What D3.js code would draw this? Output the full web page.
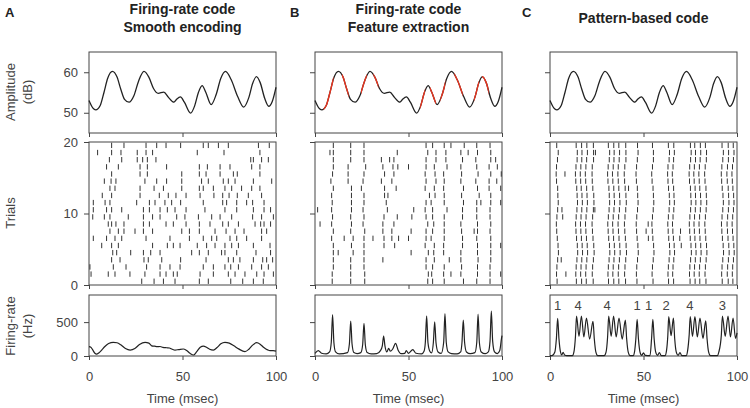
<!DOCTYPE html>
<html lang="en">
<head>
<meta charset="UTF-8">
<title>Firing-rate vs pattern-based code</title>
<script src="https://d3js.org/d3.v7.min.js"></script>
<style>
  body { margin: 0; background: #fff; font-family: "Liberation Sans", Arial, sans-serif; }
  .axis text { font-size: 13px; fill: #444; font-family: "Liberation Sans", Arial, sans-serif; }
  .axis line { stroke: #444; }
  .axis path { display: none; }
  .lbl { font-size: 13px; fill: #444; }
  .ttl { font-size: 14px; font-weight: bold; fill: #222; }
</style>
</head>
<body>
<svg width="750" height="408"></svg>
<script>
// ---- data ----
const panelLetters = ["A", "B", "C"];
const panelTitles = [["Firing-rate code", "Smooth encoding"], ["Firing-rate code", "Feature extraction"], ["Pattern-based code"]];
const timeTicks = [0, 50, 100];
const ampTicks = [50, 60];
const trialTicks = [0, 10, 20];
const rateTicks = [0, 500];

// sound amplitude (dB), same stimulus in all three panels
const ampTime = [0, 2, 3.6, 6, 8, 10, 12.5, 15, 17, 19, 21.4, 24, 26.5, 29.4, 32, 34.5, 37, 40, 42.5, 45.4, 47, 48.9, 51, 54.3, 56.5, 58.5, 60.5, 62.5, 65.3, 68, 70.5, 73, 76, 79.5, 82.7, 85.5, 87.5, 89.5, 91.5, 94, 96.1, 98, 100];
const ampDb = [53.0, 51.2, 50.7, 51.8, 55.0, 58.5, 60.2, 58.8, 55.8, 53.3, 52.6, 54.2, 57.8, 60.2, 58.8, 56.0, 54.8, 55.1, 53.8, 52.6, 53.4, 53.9, 52.6, 49.9, 51.7, 55.0, 56.7, 55.0, 52.0, 54.5, 58.5, 60.2, 58.2, 54.0, 51.4, 53.8, 57.2, 58.9, 57.5, 53.5, 51.6, 52.8, 56.3];
// stretches of the stimulus drawn in red in panel B (msec)
const redSpans = [[4.6, 9.9], [14.4, 18], [24.6, 27.7], [31.2, 33.9], [56.2, 58.9], [61.5, 64.7], [67, 69.7], [74.5, 79], [85, 87.8], [89.3, 92.9]];

// spike times (msec), trial 1 first
const rasterA = [
  [28.2, 34.8, 39.8, 46.0, 59.0, 63.8, 75.8, 82.2, 87.9, 93.2],
  [1.1, 10.3, 13.9, 21.9, 29.9, 38.0, 41.2, 45.1, 47.2, 59.4, 66.5, 74.5, 78.1, 83.4, 89.7, 93.6, 98.6],
  [0.5, 13.0, 19.8, 30.8, 38.0, 43.3, 48.7, 61.1, 66.5, 72.7, 75.8, 79.9, 87.0, 92.3, 95.9],
  [12.1, 16.6, 29.4, 31.7, 38.9, 49.0, 62.6, 74.5, 77.2, 80.7, 87.9, 92.9, 95.0, 98.2],
  [12.7, 14.8, 22.3, 29.1, 33.0, 38.0, 54.9, 59.0, 63.8, 70.9, 72.7, 79.0, 89.3, 97.1],
  [6.8, 12.1, 15.7, 34.0, 41.9, 45.1, 48.7, 57.9, 62.9, 67.4, 72.7, 76.3, 79.9, 87.9, 96.8],
  [2.3, 9.4, 13.9, 17.5, 30.5, 43.3, 53.7, 61.1, 65.6, 68.3, 75.4, 79.0, 84.3, 92.3],
  [11.2, 15.7, 18.7, 24.6, 29.1, 34.0, 49.6, 53.7, 59.0, 67.4, 73.3, 78.1, 82.9, 92.3, 95.0],
  [10.3, 12.1, 14.4, 18.7, 29.1, 32.3, 41.2, 45.1, 51.9, 59.0, 64.7, 71.5, 74.5, 79.9, 88.8, 91.8, 93.6, 97.1],
  [2.0, 8.2, 11.2, 21.0, 29.1, 34.0, 38.0, 46.9, 51.3, 58.5, 65.6, 70.1, 76.3, 87.5, 92.3, 98.6],
  [2.3, 9.4, 12.1, 17.5, 29.1, 32.3, 38.0, 41.9, 46.0, 51.9, 62.0, 72.7, 79.0, 87.9, 93.6, 97.1],
  [2.3, 8.6, 11.2, 25.5, 32.3, 35.3, 40.6, 44.2, 49.0, 61.1, 71.5, 73.6, 79.0, 84.3, 87.5, 93.6],
  [7.1, 12.1, 27.3, 37.6, 42.4, 46.5, 51.9, 59.4, 66.8, 71.5, 74.9, 79.3, 85.2, 92.3],
  [11.2, 13.9, 27.3, 34.8, 39.8, 49.6, 59.0, 61.1, 66.5, 72.7, 76.3, 81.6, 87.0, 91.4],
  [8.2, 11.8, 14.4, 29.9, 36.2, 41.5, 49.6, 60.2, 63.8, 71.8, 74.5, 78.1, 87.9, 97.7],
  [12.1, 27.3, 31.2, 49.6, 59.0, 62.6, 70.1, 77.2, 79.3, 91.4],
  [9.4, 15.7, 27.3, 31.2, 41.5, 59.0, 63.3, 70.1, 75.4, 87.0, 91.4],
  [10.9, 17.5, 25.8, 28.7, 31.2, 35.8, 86.5, 87.9, 92.3, 95.9],
  [4.6, 12.1, 17.1, 25.8, 30.5, 34.0, 57.9, 72.2, 91.4],
  [12.1, 18.7, 30.5, 36.2, 41.2, 49.0, 61.1, 63.8, 69.2, 74.5, 90.6, 96.4]
];
const rasterB = [
  [9.2, 19.1, 26.6, 60.3, 62.9, 69.1, 79.4, 86.5, 93.6],
  [9.2, 19.1, 26.6, 60.6, 62.4, 68.8, 72.7, 78.0, 86.9, 93.6, 99.3],
  [9.8, 19.1, 26.2, 59.4, 62.9, 69.1, 78.4, 86.9, 93.6],
  [9.8, 19.1, 26.2, 36.3, 59.4, 63.8, 71.8, 78.0, 87.2, 94.0],
  [9.8, 12.4, 20.4, 26.2, 51.4, 60.6, 63.5, 68.8, 78.0, 86.9, 94.0],
  [9.8, 19.5, 26.2, 36.9, 42.6, 58.9, 63.8, 68.8, 78.9, 86.9, 94.0, 99.3],
  [8.9, 15.6, 20.4, 26.2, 31.0, 36.9, 41.1, 44.7, 50.0, 59.4, 62.1, 69.1, 78.9, 86.5, 94.0],
  [9.8, 19.1, 26.6, 36.3, 41.1, 51.4, 59.4, 62.9, 69.1, 78.4, 85.1, 86.9, 93.6],
  [2.7, 8.9, 19.5, 25.7, 36.3, 42.2, 60.3, 63.5, 69.1, 78.0, 86.9, 94.0],
  [9.4, 19.1, 26.2, 36.9, 44.0, 51.8, 59.4, 62.9, 69.1, 78.9, 86.5, 93.6],
  [1.4, 8.9, 19.5, 25.7, 38.7, 52.8, 58.9, 62.9, 70.6, 78.9, 86.5, 93.6],
  [9.2, 19.5, 26.2, 38.1, 59.4, 62.1, 69.1, 79.4, 86.5, 88.7, 94.0, 99.3],
  [8.9, 19.5, 26.2, 37.2, 39.0, 61.2, 64.2, 69.1, 78.4, 87.8, 94.0],
  [9.8, 19.5, 24.8, 37.2, 43.4, 58.9, 63.8, 68.8, 79.4, 86.9, 93.1, 99.3],
  [8.5, 17.7, 25.7, 35.5, 41.1, 59.4, 64.7, 69.1, 78.0, 86.0, 93.1, 97.2],
  [9.4, 17.7, 26.2, 37.2, 42.2, 58.9, 64.2, 68.8, 78.4, 87.2, 94.0, 99.6],
  [9.8, 17.7, 27.1, 36.3, 41.7, 44.3, 50.0, 59.4, 63.8, 70.6, 78.0, 86.5, 93.1, 97.5],
  [9.8, 19.1, 26.2, 35.5, 39.9, 42.2, 59.4, 64.7, 70.0, 78.9, 86.0, 94.0, 96.6],
  [8.0, 9.8, 19.1, 26.2, 44.0, 60.3, 64.7, 70.0, 78.0, 81.9, 86.9, 94.0],
  [9.8, 19.1, 26.2, 59.4, 62.9, 69.1, 72.7, 79.8, 86.5, 93.6]
];
const rasterC = [
  [3.8, 14.1, 16.9, 19.4, 23.1, 31.3, 34.1, 36.8, 40.4, 46.5, 55.1, 63.4, 66.1, 74.9, 77.6, 80.1, 83.4, 92.1, 95.3, 97.8],
  [3.5, 8.5, 13.8, 16.4, 19.1, 22.6, 31.0, 33.6, 36.5, 39.9, 46.2, 54.6, 63.1, 65.6, 74.6, 77.1, 79.8, 82.9, 91.8, 94.8, 97.5],
  [3.7, 14.0, 16.6, 19.3, 22.8, 31.2, 33.8, 36.7, 40.1, 46.4, 54.8, 63.3, 65.8, 74.8, 77.3, 80.0, 83.1, 92.0, 95.0, 97.7],
  [4.1, 6.0, 14.4, 17.0, 19.7, 23.2, 31.6, 34.2, 37.1, 40.5, 46.8, 55.2, 63.7, 66.2, 75.2, 77.7, 80.4, 83.5, 92.4, 95.4, 98.1],
  [4.5, 14.8, 17.4, 20.1, 23.6, 32.0, 34.6, 37.5, 40.9, 47.2, 55.6, 64.1, 66.6, 75.6, 78.1, 80.8, 83.9, 92.8, 95.8, 98.5],
  [4.3, 14.6, 17.2, 19.9, 23.4, 31.8, 34.4, 37.3, 40.7, 47.0, 55.4, 63.9, 66.4, 70.2, 75.4, 77.9, 80.6, 83.7, 92.6, 95.6, 98.3],
  [3.9, 14.2, 16.8, 19.5, 23.0, 31.4, 34.0, 36.9, 40.3, 46.6, 52.6, 55.0, 63.5, 66.0, 69.4, 75.0, 77.5, 80.2, 83.3, 92.2, 95.2, 97.9],
  [3.6, 13.9, 16.5, 19.2, 22.7, 31.1, 33.7, 36.6, 40.0, 46.3, 51.4, 54.7, 63.2, 65.7, 69.8, 74.7, 77.2, 79.9, 83.0, 91.9, 94.9, 97.6],
  [3.4, 13.7, 16.3, 19.0, 22.5, 30.9, 33.5, 36.4, 39.8, 46.1, 52.5, 54.5, 63.0, 65.5, 74.5, 77.0, 79.7, 82.8, 91.7, 94.7, 97.4],
  [3.7, 6.8, 14.0, 16.6, 19.3, 22.8, 31.2, 33.8, 36.7, 40.1, 46.4, 54.8, 63.3, 65.8, 74.8, 77.3, 80.0, 83.1, 92.0, 95.0, 97.7],
  [4.1, 6.4, 14.4, 17.0, 19.7, 23.2, 24.0, 31.6, 34.2, 37.1, 40.5, 46.8, 55.2, 63.7, 66.2, 75.2, 77.7, 80.4, 83.5, 92.4, 95.4, 98.1],
  [4.4, 14.7, 17.3, 20.0, 23.5, 31.9, 34.5, 37.4, 40.8, 47.1, 55.5, 64.0, 66.5, 75.5, 78.0, 80.7, 83.8, 92.7, 95.7, 98.4],
  [4.2, 14.5, 17.1, 19.8, 23.4, 31.7, 34.3, 37.2, 40.6, 46.9, 55.3, 63.8, 66.3, 75.3, 77.8, 80.5, 83.6, 92.5, 95.5, 98.2],
  [4.1, 14.3, 16.7, 19.6, 22.9, 31.5, 34.1, 36.8, 40.2, 42.0, 46.7, 55.1, 63.4, 66.1, 75.1, 77.6, 80.1, 83.4, 92.1, 95.3, 97.8],
  [3.5, 13.8, 16.4, 19.1, 22.6, 31.0, 33.6, 36.5, 39.9, 46.2, 54.6, 63.1, 65.6, 74.6, 77.1, 79.8, 82.9, 91.8, 94.8, 97.5],
  [3.3, 8.0, 13.6, 16.2, 18.9, 22.5, 30.8, 33.4, 36.3, 39.7, 46.0, 54.4, 62.9, 65.4, 74.4, 76.9, 79.6, 82.7, 91.6, 94.6, 97.3],
  [3.5, 13.9, 16.5, 19.2, 22.6, 31.1, 33.8, 36.5, 40.0, 46.3, 54.8, 63.1, 65.8, 74.7, 77.2, 79.9, 83.0, 91.9, 94.9, 97.6],
  [4.0, 14.5, 17.0, 19.6, 23.3, 31.7, 34.2, 37.0, 40.6, 46.7, 55.3, 63.7, 66.1, 75.2, 77.8, 80.3, 83.6, 92.4, 95.4, 98.1],
  [4.4, 14.6, 17.1, 20.0, 23.3, 24.3, 31.9, 34.3, 37.2, 40.6, 47.1, 55.3, 63.9, 66.5, 75.5, 77.8, 80.6, 83.7, 92.7, 95.5, 98.4],
  [3.6, 14.0, 16.9, 19.7, 23.2, 31.2, 34.1, 36.8, 40.5, 46.8, 54.8, 63.3, 66.2, 75.1, 77.4, 80.4, 83.1, 92.0, 95.3, 98.0]
];

// firing rate, [msec, Hz]
const rateA = [[0, 137], [1, 130], [2, 90], [3, 45], [4.2, 29], [5.5, 50], [6.8, 88], [8.5, 140], [10.5, 185], [13, 201], [15, 195], [17, 165], [19.5, 110], [22, 88], [24.5, 110], [27, 170], [30, 201], [32, 190], [33.5, 150], [35, 145], [36.5, 137], [38, 140], [39.5, 128], [41.6, 122], [43, 118], [44.5, 100], [46, 88], [48, 95], [50.5, 103], [52, 85], [54, 40], [55.9, 15], [57.5, 60], [59.5, 130], [61.2, 147], [63, 125], [64.5, 100], [66.5, 88], [68.5, 125], [70.5, 180], [72.7, 201], [75, 190], [77.5, 150], [80, 105], [83.4, 64], [85.5, 100], [87.5, 160], [89.7, 196], [91.5, 175], [93.5, 125], [95.5, 90], [96.8, 78], [98.5, 80], [100, 73]];
const rateB = [[0, 40], [1.8, 80], [3.5, 40], [6, 30], [7.8, 60], [8.7, 200], [9.4, 612], [10.1, 200], [11, 60], [13, 30], [17.4, 50], [18.4, 180], [19.1, 515], [19.8, 180], [20.8, 50], [22.5, 35], [24.5, 50], [25.5, 170], [26.2, 480], [26.9, 170], [27.9, 50], [30, 30], [33, 35], [35, 80], [36, 150], [36.7, 294], [37.4, 150], [38.4, 60], [39.4, 113], [40.3, 70], [41.5, 100], [43.1, 186], [44.4, 90], [46, 35], [48, 40], [48.8, 80], [50, 40], [52.3, 95], [54, 40], [57, 30], [58.3, 70], [59, 200], [59.7, 593], [60.4, 200], [61.4, 70], [62.3, 45], [63.3, 200], [64, 505], [64.7, 200], [65.8, 60], [67.5, 40], [68.8, 200], [69.5, 627], [70.2, 200], [71.2, 60], [73, 35], [76, 30], [77.9, 60], [78.6, 200], [79.3, 529], [80, 200], [81, 60], [83, 35], [85.5, 50], [86.5, 200], [87.2, 617], [87.9, 200], [88.9, 60], [91, 35], [92.7, 60], [93.6, 220], [94.3, 661], [95, 220], [96, 60], [97.5, 35], [98.8, 80], [99.8, 270], [100, 300]];
const rateC = [[0, 5], [1, 5], [2.6, 60], [3.4, 250], [4.1, 554], [4.8, 250], [5.6, 60], [6.3, 15], [7, 55], [7.8, 15], [9, 5], [12, 5], [12.8, 60], [13.6, 280], [14.2, 590], [15.5, 290], [16.8, 590], [18.1, 280], [19.5, 560], [21.2, 250], [23, 510], [23.7, 250], [24.5, 60], [25.5, 5], [29, 5], [30, 60], [30.8, 280], [31.4, 590], [32.7, 290], [34, 590], [35.4, 280], [36.9, 560], [38.6, 250], [40.3, 530], [41, 250], [41.8, 60], [42.8, 5], [44.5, 5], [45.2, 60], [45.9, 250], [46.6, 540], [47.3, 250], [48.1, 60], [49, 10], [50, 45], [51, 8], [53.5, 5], [54.3, 250], [55, 540], [55.7, 250], [56.5, 60], [57.5, 10], [58.5, 50], [59.5, 5], [61.5, 5], [62.3, 80], [63, 300], [63.5, 580], [64.75, 300], [66, 560], [66.7, 250], [67.5, 60], [68.5, 10], [69.5, 50], [70.5, 5], [72.8, 5], [73.6, 80], [74.4, 300], [75, 580], [76.2, 290], [77.5, 580], [78.8, 280], [80.2, 560], [81.8, 260], [83.3, 520], [84, 250], [84.8, 60], [85.8, 5], [89.5, 5], [90.3, 60], [91.6, 300], [92.2, 590], [93.7, 290], [95.2, 590], [96.5, 280], [97.9, 560], [99.2, 260], [100, 340]];

// number of spikes per pattern, placed above panel C rate trace
const patternLabels = ["1", "4", "4", "1", "1", "2", "4", "3"];
const patternLabelTime = [4.1, 15.1, 30.6, 46.6, 52.8, 62.1, 74.8, 92.2];

// ---- drawing ----
const svg = d3.select("svg");
const panelX = [89, 315, 550], panelW = 187;
const rows = { amp: [52, 133], trial: [142, 285], rate: [295, 356] };

const rasters = [rasterA, rasterB, rasterC];
const rates = [rateA, rateB, rateC];

const yAmp = d3.scaleLinear().domain([45, 65]).range([rows.amp[1], rows.amp[0]]);
const yTrial = d3.scaleLinear().domain([0, 20]).range([rows.trial[1], rows.trial[0]]);
const yRate = d3.scaleLinear().domain([0, 900]).range([rows.rate[1], rows.rate[0]]);

const ampData = ampTime.map((t, i) => [t, ampDb[i]]);

panelX.forEach((x0, p) => {
  const x = d3.scaleLinear().domain([0, 100]).range([x0, x0 + panelW]);
  const g = svg.append("g");

  // boxes
  Object.values(rows).forEach(r => {
    g.append("rect").attr("x", x0).attr("y", r[0]).attr("width", panelW).attr("height", r[1] - r[0])
      .attr("fill", "none").attr("stroke", "#444").attr("stroke-width", 1);
  });

  // bottom ticks on every row, labels only on the last one
  [["amp", false], ["trial", false], ["rate", true]].forEach(([k, lab]) => {
    g.append("g").attr("class", "axis").attr("transform", `translate(0,${rows[k][1]})`)
      .call(d3.axisBottom(x).tickValues(timeTicks).tickSize(4).tickPadding(12).tickFormat(lab ? d3.format("d") : ""));
  });

  // left ticks
  const fmt = p === 0 ? d3.format("d") : () => "";
  g.append("g").attr("class", "axis").attr("transform", `translate(${x0},0)`)
    .call(d3.axisLeft(yAmp).tickValues(ampTicks).tickSize(5).tickPadding(6).tickFormat(fmt));
  g.append("g").attr("class", "axis").attr("transform", `translate(${x0},0)`)
    .call(d3.axisLeft(yTrial).tickValues(trialTicks).tickSize(5).tickPadding(6).tickFormat(fmt));
  g.append("g").attr("class", "axis").attr("transform", `translate(${x0},0)`)
    .call(d3.axisLeft(yRate).tickValues(rateTicks).tickSize(5).tickPadding(6).tickFormat(fmt));

  // stimulus
  const ampLine = d3.line().x(d => x(d[0])).y(d => yAmp(d[1])).curve(d3.curveMonotoneX);
  g.append("path").attr("d", ampLine(ampData)).attr("fill", "none").attr("stroke", "#222").attr("stroke-width", 1.3);
  if (p === 1) {
    redSpans.forEach((s, i) => {
      const id = "red" + i;
      svg.append("clipPath").attr("id", id).append("rect")
        .attr("x", x(s[0])).attr("y", rows.amp[0]).attr("width", x(s[1]) - x(s[0])).attr("height", rows.amp[1] - rows.amp[0]);
      g.append("path").attr("d", ampLine(ampData)).attr("clip-path", `url(#${id})`)
        .attr("fill", "none").attr("stroke", "#e8341f").attr("stroke-width", 1.4);
    });
  }

  // raster
  rasters[p].forEach((spikes, i) => {
    const k = i + 1;
    g.selectAll(null).data(spikes).join("line")
      .attr("x1", d => x(d)).attr("x2", d => x(d))
      .attr("y1", yTrial(k - 0.85)).attr("y2", yTrial(k - 0.1))
      .attr("stroke", "#333").attr("stroke-width", 1);
  });

  // firing rate
  const rateLine = d3.line().x(d => x(d[0])).y(d => yRate(d[1])).curve(d3.curveMonotoneX);
  g.append("path").attr("d", rateLine(rates[p])).attr("fill", "none").attr("stroke", "#222").attr("stroke-width", 1.2);

  if (p === 2) {
    g.selectAll(null).data(patternLabels).join("text")
      .attr("class", "lbl").attr("x", (d, i) => x(patternLabelTime[i])).attr("y", 310)
      .attr("text-anchor", "middle").text(d => d);
  }

  // x title
  g.append("text").attr("class", "lbl").attr("x", x(50)).attr("y", 403).attr("text-anchor", "middle").text("Time (msec)");

  // panel title + letter
  const tl = panelTitles[p];
  const ty = tl.length === 2 ? [14, 32] : [23];
  tl.forEach((s, i) => {
    g.append("text").attr("class", "ttl").attr("x", x(50)).attr("y", ty[i]).attr("text-anchor", "middle").text(s);
  });
});

const letterX = [5, 290, 522];
panelLetters.forEach((l, i) => {
  svg.append("text").attr("class", "ttl").attr("x", letterX[i]).attr("y", 17).style("font-size", "13px").text(l);
});

// y titles
function yTitle(lines, cy) {
  lines.forEach((s, i) => {
    svg.append("text").attr("class", "lbl")
      .attr("transform", `translate(${10 + i * 17},${cy}) rotate(-90)`)
      .attr("text-anchor", "middle").attr("dominant-baseline", "central").text(s);
  });
}
yTitle(["Amplitude", "(dB)"], 92);
yTitle(["Trials"], 213);
yTitle(["Firing-rate", "(Hz)"], 326);
</script>
</body>
</html>
